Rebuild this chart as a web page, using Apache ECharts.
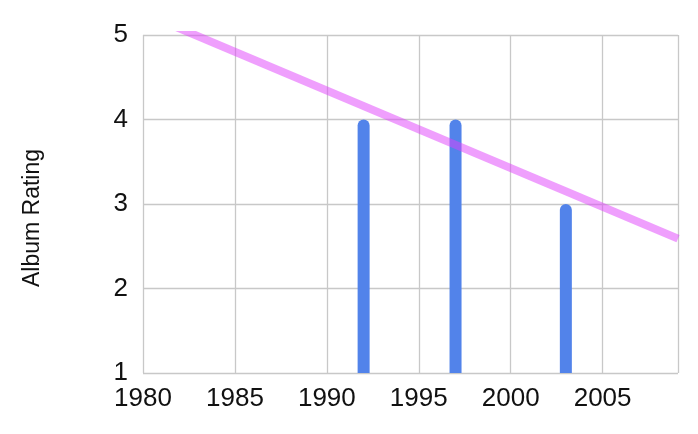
<!DOCTYPE html>
<html>
<head>
<meta charset="utf-8">
<script src="https://cdn.jsdelivr.net/npm/echarts@6/dist/echarts.min.js"></script>
<style>html,body{margin:0;padding:0;background:#fff;}#c{width:698px;height:434px;}</style>
</head>
<body>
<div id="c"></div>
<script>
const years = [1992, 1997, 2003];
const ratings = [4, 4, 3];
const trendYears = [1980, 2009.1];
const trendValues = [5.26, 2.59];
const yTitle = 'Album Rating';

const chart = echarts.init(document.getElementById('c'), null, {renderer: 'canvas'});
chart.setOption({
  animation: false,
  backgroundColor: '#ffffff',
  grid: {left: 143, top: 35, right: 20, bottom: 61, containLabel: false},
  xAxis: {
    type: 'value', min: 1980, max: 2009.1, interval: 5,
    axisLine: {show: false}, axisTick: {show: false},
    splitLine: {show: true, lineStyle: {color: '#c8c8c8', width: 1.3}},
    axisLabel: {fontFamily: 'Liberation Sans, Arial', fontSize: 26, color: '#111', margin: 13,
      showMaxLabel: false, formatter: v => String(v)}
  },
  yAxis: {
    type: 'value', min: 1, max: 5, interval: 1,
    axisLine: {show: false}, axisTick: {show: false},
    splitLine: {show: true, lineStyle: {color: '#c8c8c8', width: 1.3}},
    axisLabel: {fontFamily: 'Liberation Sans, Arial', fontSize: 26, color: '#111', margin: 15,
      formatter: v => String(v)}
  },
  graphic: [{
    type: 'text', x: 33, y: 218, rotation: Math.PI / 2,
    style: {text: yTitle, fontFamily: 'Liberation Sans, Arial', fontSize: 23, fill: '#111',
      textAlign: 'center', textVerticalAlign: 'middle'}
  }],
  series: [
    {
      type: 'bar', barWidth: 12, clip: true,
      itemStyle: {color: '#5283ea', borderRadius: [6, 6, 0, 0]},
      data: years.map((y, i) => [y, ratings[i]])
    },
    {
      type: 'line', symbol: 'none', clip: true, z: 5,
      lineStyle: {color: '#e040fb', width: 8, opacity: 0.5, cap: 'butt'},
      data: trendYears.map((y, i) => [y, trendValues[i]])
    }
  ]
});
</script>
</body>
</html>
